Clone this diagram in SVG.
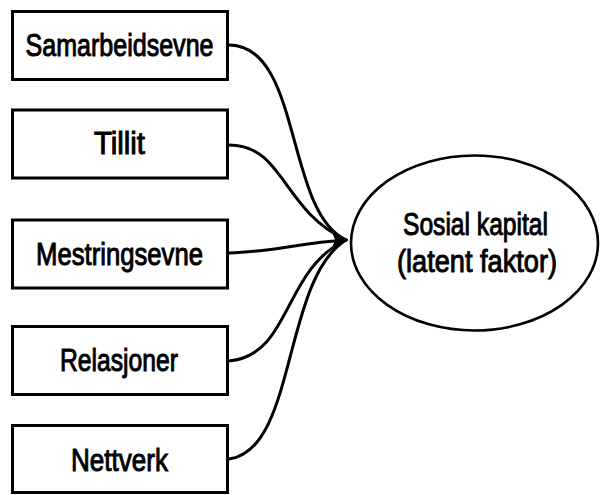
<svg xmlns="http://www.w3.org/2000/svg" width="600" height="495" viewBox="0 0 600 495">
  <style>
    .box { fill: #fff; stroke: #000; stroke-width: 3; }
    .oval { fill: #fff; stroke: #000; stroke-width: 2.6; }
    .lbl { font-family: "Liberation Sans", Arial, sans-serif; font-size: 31px; font-weight: normal; fill: #000; stroke: #000; stroke-width: 1; text-anchor: middle; }
    .link { fill: none; stroke: #000; stroke-width: 3; stroke-linecap: round; marker-end: url(#head); }
  </style>
  <defs>
    <marker id="head" viewBox="0 0 10 10" refX="9" refY="5" markerWidth="15" markerHeight="15" markerUnits="userSpaceOnUse" orient="0">
      <path d="M0,0 L10,5 L0,10 L2,5 Z" fill="#000"/>
    </marker>
  </defs>
  <rect width="600" height="495" fill="#fff"/>

  <g id="connectors">
    <path class="link" d="M229,45 C302,45 285,212 346,240"/>
    <path class="link" d="M229,145 C284,145 282,210 346,240"/>
    <path class="link" d="M229,253 C270,252 300,243 346,240"/>
    <path class="link" d="M229,361 C292,355 282,270 346,240"/>
    <path class="link" d="M229,459 C297,450 282,280 346,240"/>
  </g>

  <g id="samarbeidsevne">
    <rect class="box" x="12.5" y="11.5" width="215" height="68"/>
    <text class="lbl" x="119.5" y="56" textLength="188" lengthAdjust="spacingAndGlyphs">Samarbeidsevne</text>
  </g>
  <g id="tillit">
    <rect class="box" x="12.5" y="110" width="215" height="68"/>
    <text class="lbl" x="119.5" y="154" textLength="51" lengthAdjust="spacingAndGlyphs">Tillit</text>
  </g>
  <g id="mestringsevne">
    <rect class="box" x="12.5" y="220" width="215" height="68"/>
    <text class="lbl" x="119.5" y="265" textLength="167" lengthAdjust="spacingAndGlyphs">Mestringsevne</text>
  </g>
  <g id="relasjoner">
    <rect class="box" x="12.5" y="326.5" width="215" height="68"/>
    <text class="lbl" x="119" y="371" textLength="118" lengthAdjust="spacingAndGlyphs">Relasjoner</text>
  </g>
  <g id="nettverk">
    <rect class="box" x="12.5" y="425.5" width="215" height="67"/>
    <text class="lbl" x="119.5" y="471" textLength="97" lengthAdjust="spacingAndGlyphs">Nettverk</text>
  </g>

  <g id="sosial-kapital">
    <ellipse class="oval" cx="474.5" cy="243" rx="123.5" ry="87.5"/>
    <text class="lbl" x="475.5" y="235" textLength="145" lengthAdjust="spacingAndGlyphs">Sosial kapital</text>
    <text class="lbl" x="477" y="272" textLength="160" lengthAdjust="spacingAndGlyphs">(latent faktor)</text>
  </g>
</svg>
